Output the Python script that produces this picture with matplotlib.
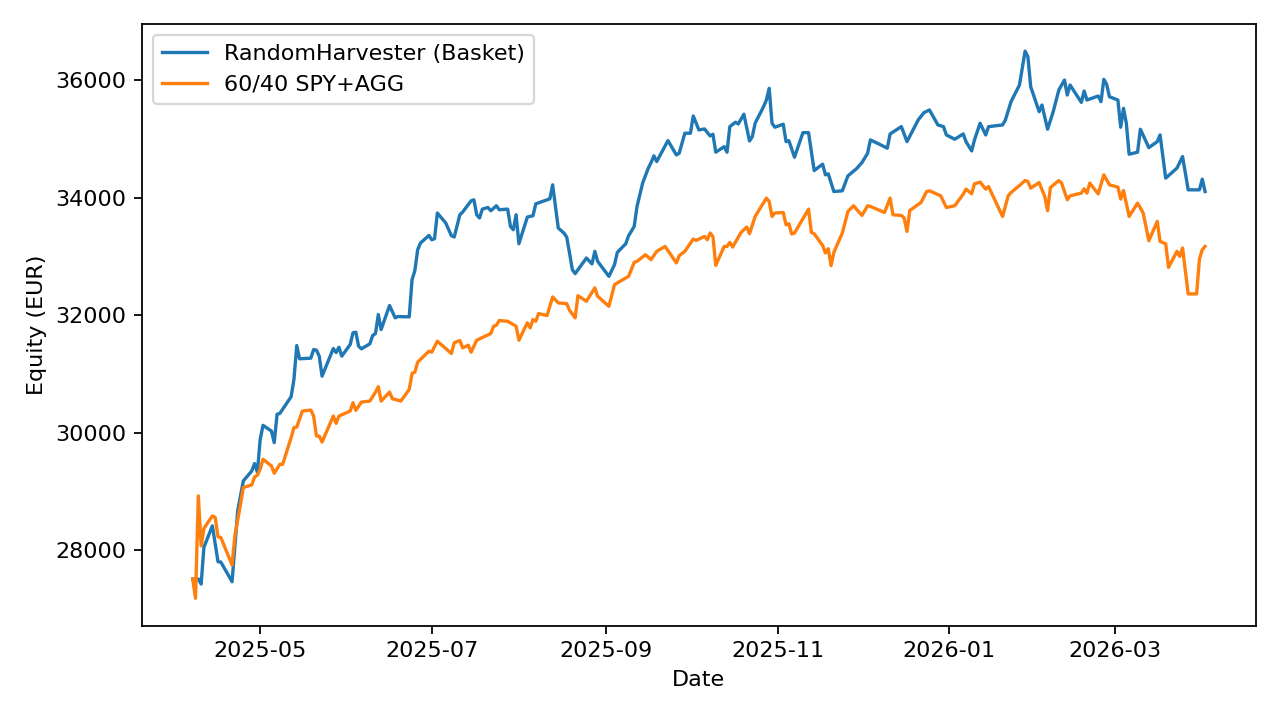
import matplotlib
matplotlib.use("Agg")
import matplotlib.pyplot as plt
import matplotlib.dates as mdates
import pandas as pd

# RandomHarvester basket equity (EUR)
basket_dates = [
    "2025-04-07", "2025-04-09", "2025-04-10", "2025-04-11", "2025-04-14", "2025-04-16",
    "2025-04-17", "2025-04-21", "2025-04-23", "2025-04-25", "2025-04-28", "2025-04-29",
    "2025-04-30", "2025-05-01", "2025-05-02", "2025-05-05", "2025-05-06", "2025-05-07",
    "2025-05-08", "2025-05-12", "2025-05-13", "2025-05-14", "2025-05-15", "2025-05-19",
    "2025-05-20", "2025-05-21", "2025-05-22", "2025-05-23", "2025-05-27", "2025-05-28",
    "2025-05-29", "2025-05-30", "2025-06-02", "2025-06-03", "2025-06-04", "2025-06-05",
    "2025-06-06", "2025-06-09", "2025-06-10", "2025-06-11", "2025-06-12", "2025-06-13",
    "2025-06-16", "2025-06-18", "2025-06-19", "2025-06-23", "2025-06-24", "2025-06-25",
    "2025-06-26", "2025-06-27", "2025-06-30", "2025-07-01", "2025-07-02", "2025-07-03",
    "2025-07-06", "2025-07-08", "2025-07-09", "2025-07-11", "2025-07-12", "2025-07-15",
    "2025-07-16", "2025-07-17", "2025-07-18", "2025-07-19", "2025-07-21", "2025-07-22",
    "2025-07-24", "2025-07-25", "2025-07-28", "2025-07-29", "2025-07-30", "2025-07-31",
    "2025-08-01", "2025-08-04", "2025-08-06", "2025-08-07", "2025-08-12", "2025-08-13",
    "2025-08-15", "2025-08-17", "2025-08-18", "2025-08-19", "2025-08-20", "2025-08-21",
    "2025-08-25", "2025-08-27", "2025-08-28", "2025-08-29", "2025-09-02", "2025-09-04",
    "2025-09-05", "2025-09-08", "2025-09-09", "2025-09-11", "2025-09-12", "2025-09-14",
    "2025-09-16", "2025-09-17", "2025-09-18", "2025-09-19", "2025-09-23", "2025-09-26",
    "2025-09-27", "2025-09-29", "2025-10-01", "2025-10-02", "2025-10-04", "2025-10-06",
    "2025-10-08", "2025-10-09", "2025-10-10", "2025-10-13", "2025-10-14", "2025-10-15",
    "2025-10-17", "2025-10-18", "2025-10-20", "2025-10-22", "2025-10-23", "2025-10-24",
    "2025-10-27", "2025-10-28", "2025-10-29", "2025-10-30", "2025-10-31", "2025-11-03",
    "2025-11-04", "2025-11-05", "2025-11-07", "2025-11-10", "2025-11-12", "2025-11-14",
    "2025-11-17", "2025-11-18", "2025-11-19", "2025-11-21", "2025-11-24", "2025-11-26",
    "2025-11-29", "2025-12-01", "2025-12-03", "2025-12-04", "2025-12-07", "2025-12-10",
    "2025-12-11", "2025-12-15", "2025-12-17", "2025-12-21", "2025-12-23", "2025-12-25",
    "2025-12-28", "2025-12-30", "2025-12-31", "2026-01-03", "2026-01-06", "2026-01-07",
    "2026-01-09", "2026-01-10", "2026-01-12", "2026-01-14", "2026-01-15", "2026-01-20",
    "2026-01-21", "2026-01-23", "2026-01-26", "2026-01-28", "2026-01-29", "2026-01-30",
    "2026-02-02", "2026-02-03", "2026-02-05", "2026-02-07", "2026-02-09", "2026-02-11",
    "2026-02-12", "2026-02-13", "2026-02-17", "2026-02-18", "2026-02-19", "2026-02-23",
    "2026-02-24", "2026-02-25", "2026-02-26", "2026-02-27", "2026-03-02", "2026-03-03",
    "2026-03-04", "2026-03-05", "2026-03-06", "2026-03-09", "2026-03-10", "2026-03-13",
    "2026-03-16", "2026-03-17", "2026-03-19", "2026-03-23", "2026-03-25", "2026-03-27",
    "2026-03-31", "2026-04-01", "2026-04-02",
]
basket_equity = [
    27510, 27510, 27425, 28053, 28415, 27804,
    27800, 27464, 28670, 29179, 29349, 29475,
    29327, 29887, 30125, 30028, 29831, 30312,
    30329, 30612, 30906, 31483, 31257, 31268,
    31415, 31404, 31302, 30962, 31432, 31364,
    31454, 31302, 31500, 31699, 31710, 31471,
    31427, 31512, 31653, 31687, 32010, 31755,
    32163, 31954, 31976, 31971, 32604, 32757,
    33113, 33227, 33356, 33283, 33300, 33737,
    33567, 33351, 33329, 33708, 33754, 33945,
    33962, 33708, 33652, 33804, 33832, 33776,
    33861, 33793, 33804, 33509, 33453, 33708,
    33215, 33669, 33691, 33894, 33979, 34217,
    33482, 33397, 33329, 33057, 32774, 32706,
    32972, 32871, 33085, 32915, 32660, 32859,
    33068, 33215, 33351, 33509, 33849, 34246,
    34501, 34596, 34710, 34613, 34969, 34726,
    34755, 35095, 35095, 35389, 35151, 35168,
    35049, 35078, 34772, 34867, 34772, 35207,
    35282, 35253, 35418, 34964, 35037, 35265,
    35547, 35660, 35859, 35265, 35197, 35248,
    34952, 34969, 34687, 35105, 35105, 34460,
    34569, 34387, 34404, 34103, 34115, 34370,
    34489, 34596, 34755, 34981, 34913, 34840,
    35083, 35207, 34952, 35321, 35445, 35491,
    35236, 35207, 35066, 34993, 35083, 34952,
    34794, 34981, 35265, 35066, 35207, 35236,
    35321, 35632, 35915, 36492, 36396, 35886,
    35462, 35575, 35163, 35462, 35830, 36000,
    35745, 35915, 35620, 35813, 35660, 35728,
    35632, 36012, 35927, 35716, 35660, 35197,
    35519, 35265, 34738, 34772, 35163, 34850,
    34952, 35066, 34331, 34501, 34698, 34132,
    34132, 34314, 34103,
]

# 60/40 SPY+AGG benchmark equity (EUR)
bench_dates = [
    "2025-04-07", "2025-04-08", "2025-04-09", "2025-04-10", "2025-04-11", "2025-04-14",
    "2025-04-15", "2025-04-16", "2025-04-17", "2025-04-21", "2025-04-22", "2025-04-24",
    "2025-04-25", "2025-04-28", "2025-04-29", "2025-04-30", "2025-05-01", "2025-05-02",
    "2025-05-05", "2025-05-06", "2025-05-08", "2025-05-09", "2025-05-12", "2025-05-13",
    "2025-05-14", "2025-05-16", "2025-05-19", "2025-05-20", "2025-05-21", "2025-05-22",
    "2025-05-23", "2025-05-27", "2025-05-28", "2025-05-29", "2025-06-02", "2025-06-03",
    "2025-06-04", "2025-06-06", "2025-06-09", "2025-06-11", "2025-06-12", "2025-06-13",
    "2025-06-16", "2025-06-17", "2025-06-18", "2025-06-20", "2025-06-23", "2025-06-24",
    "2025-06-25", "2025-06-26", "2025-06-30", "2025-07-01", "2025-07-03", "2025-07-08",
    "2025-07-09", "2025-07-11", "2025-07-12", "2025-07-14", "2025-07-15", "2025-07-17",
    "2025-07-20", "2025-07-22", "2025-07-23", "2025-07-24", "2025-07-25", "2025-07-28",
    "2025-07-31", "2025-08-01", "2025-08-04", "2025-08-05", "2025-08-06", "2025-08-07",
    "2025-08-08", "2025-08-11", "2025-08-13", "2025-08-15", "2025-08-18", "2025-08-19",
    "2025-08-21", "2025-08-22", "2025-08-25", "2025-08-28", "2025-08-29", "2025-09-02",
    "2025-09-04", "2025-09-05", "2025-09-09", "2025-09-11", "2025-09-12", "2025-09-15",
    "2025-09-17", "2025-09-19", "2025-09-22", "2025-09-26", "2025-09-27", "2025-09-29",
    "2025-10-02", "2025-10-03", "2025-10-06", "2025-10-07", "2025-10-08", "2025-10-09",
    "2025-10-10", "2025-10-13", "2025-10-14", "2025-10-15", "2025-10-16", "2025-10-19",
    "2025-10-21", "2025-10-22", "2025-10-24", "2025-10-28", "2025-10-29", "2025-10-30",
    "2025-10-31", "2025-11-03", "2025-11-04", "2025-11-05", "2025-11-06", "2025-11-07",
    "2025-11-12", "2025-11-13", "2025-11-14", "2025-11-17", "2025-11-18", "2025-11-19",
    "2025-11-20", "2025-11-21", "2025-11-24", "2025-11-26", "2025-11-28", "2025-12-01",
    "2025-12-03", "2025-12-04", "2025-12-09", "2025-12-11", "2025-12-12", "2025-12-15",
    "2025-12-16", "2025-12-17", "2025-12-18", "2025-12-22", "2025-12-24", "2025-12-25",
    "2025-12-29", "2025-12-31", "2026-01-03", "2026-01-06", "2026-01-07", "2026-01-09",
    "2026-01-10", "2026-01-12", "2026-01-14", "2026-01-15", "2026-01-20", "2026-01-22",
    "2026-01-23", "2026-01-26", "2026-01-28", "2026-01-29", "2026-01-30", "2026-02-02",
    "2026-02-04", "2026-02-05", "2026-02-06", "2026-02-09", "2026-02-10", "2026-02-12",
    "2026-02-13", "2026-02-17", "2026-02-18", "2026-02-19", "2026-02-20", "2026-02-23",
    "2026-02-25", "2026-02-27", "2026-03-02", "2026-03-03", "2026-03-04", "2026-03-06",
    "2026-03-09", "2026-03-11", "2026-03-13", "2026-03-16", "2026-03-17", "2026-03-19",
    "2026-03-20", "2026-03-23", "2026-03-24", "2026-03-25", "2026-03-27", "2026-03-30",
    "2026-03-31", "2026-04-01", "2026-04-02",
]
bench_equity = [
    27510, 27182, 28924, 28075, 28371, 28585,
    28558, 28228, 28218, 27748, 28245, 28783,
    29067, 29111, 29247, 29276, 29378, 29548,
    29434, 29310, 29463, 29463, 29916, 30086,
    30096, 30368, 30385, 30283, 29943, 29943,
    29841, 30283, 30159, 30283, 30368, 30510,
    30380, 30521, 30538, 30690, 30782, 30538,
    30690, 30578, 30566, 30538, 30736, 31008,
    31030, 31200, 31387, 31370, 31556, 31347,
    31529, 31568, 31444, 31488, 31369, 31573,
    31641, 31687, 31811, 31828, 31908, 31896,
    31811, 31573, 31869, 31784, 31925, 31896,
    32027, 31993, 32310, 32208, 32196, 32083,
    31954, 32332, 32236, 32463, 32320, 32151,
    32519, 32548, 32660, 32898, 32915, 33028,
    32944, 33085, 33169, 32888, 33012, 33085,
    33295, 33271, 33339, 33283, 33397, 33339,
    32847, 33169, 33169, 33237, 33159, 33407,
    33499, 33385, 33679, 33991, 33934, 33679,
    33737, 33747, 33538, 33555, 33380, 33397,
    33804, 33407, 33385, 33186, 33057, 33130,
    32842, 33068, 33397, 33764, 33861, 33696,
    33861, 33849, 33747, 33991, 33708, 33696,
    33652, 33424, 33781, 33917, 34103, 34115,
    34030, 33832, 33861, 34059, 34144, 34064,
    34234, 34263, 34144, 34188, 33679, 34030,
    34086, 34205, 34290, 34273, 34161, 34256,
    34018, 33776, 34171, 34290, 34246, 33962,
    34030, 34076, 34149, 34076, 34246, 34064,
    34387, 34217, 34178, 33974, 34120, 33679,
    33906, 33737, 33266, 33594, 33254, 33215,
    32813, 33085, 33000, 33142, 32361, 32361,
    32955, 33113, 33169,
]

basket = pd.Series(basket_equity, index=pd.to_datetime(basket_dates))
bench = pd.Series(bench_equity, index=pd.to_datetime(bench_dates))

fig, ax = plt.subplots(figsize=(8, 4.5), dpi=160)
fig.subplots_adjust(left=0.111, right=0.981, top=0.967, bottom=0.131)

ax.plot(basket.index, basket.values, color="tab:blue", lw=1.5,
        label="RandomHarvester (Basket)")
ax.plot(bench.index, bench.values, color="tab:orange", lw=1.5,
        label="60/40 SPY+AGG")

ax.xaxis.set_major_locator(mdates.MonthLocator(bymonth=[1, 3, 5, 7, 9, 11]))
ax.xaxis.set_major_formatter(mdates.DateFormatter("%Y-%m"))
ax.set_xlabel("Date")
ax.set_ylabel("Equity (EUR)")
ax.legend(loc="upper left")

fig.savefig("out.png", dpi=160)
